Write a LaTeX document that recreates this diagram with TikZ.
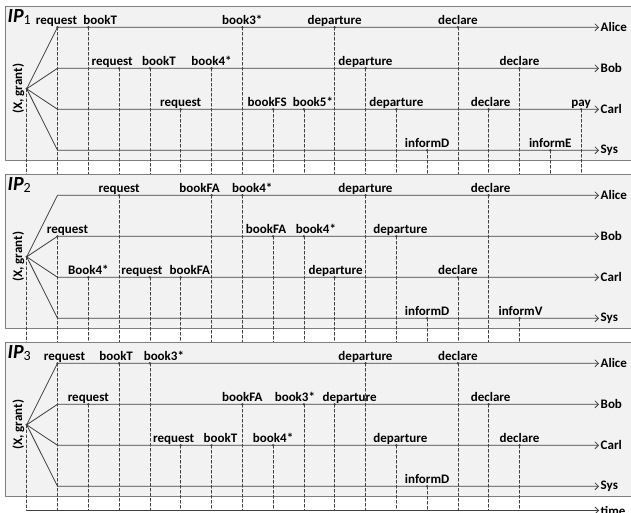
\documentclass[tikz,border=0pt]{standalone}
\usepackage{fontspec}
\setmainfont{Carlito}
\usetikzlibrary{arrows.meta,positioning}
\definecolor{panelfill}{HTML}{F2F2F2}
\definecolor{panelline}{HTML}{7F7F7F}
\definecolor{inkgray}{HTML}{404040}
\tikzset{
  panel/.style={fill=panelfill,draw=panelline,line width=1.2pt},
  lifeline/.style={draw=inkgray,line width=.8pt,-{Straight Barb[length=3.5pt,width=7pt]}},
  tick/.style={draw=inkgray,line width=.6pt,dash pattern=on 3pt off 2pt},
  evlabel/.style={font=\fontsize{13}{15}\selectfont\bfseries,inner sep=0pt,anchor=base},
  actor/.style={font=\fontsize{13}{15}\selectfont\bfseries,inner sep=0pt,anchor=west},
  ip/.style={font=\fontsize{20}{22}\selectfont\bfseries\itshape,inner sep=0pt,anchor=base west},
}

\begin{document}
\begin{tikzpicture}[x=1pt,y=-1pt,line cap=round,line join=round]
\useasboundingbox (0,0) rectangle (631,513);
% IP_1
\begin{scope}
\path[panel] (5.5,6.7) rectangle (640,160.8);
\coordinate (o1) at (26.7,88.8);
\coordinate (b1) at (0,174.5);
\foreach \row/\who in {0/Alice,1/Bob,2/Carl,3/Sys}{
  \coordinate (s1-\row) at (57.5,{27.3+41*\row});
  \coordinate (t1-\row) at (599,{27.3+41*\row});
  \draw[lifeline] (o1) -- (s1-\row) -- (t1-\row);
  \node[actor,right=1.5pt of t1-\row] (n1-\row) {\who};
}
\draw[tick] (o1) -- (o1 |- b1);
\fill[inkgray] (o1) circle (1.3);
\node[ip] (ip1) at (7.5,22.7) {IP\raisebox{-1.5pt}{\normalfont\fontsize{14}{14}\selectfont 1}};
\node[actor,rotate=90,anchor=center] (g1) at (18.5,88.8) {(X, grant)};
\foreach \row/\kk/\lab/\dx in {0/1/request/-1,0/2/bookT/12,0/7/book3*/0,0/10/departure/0,0/14/declare/0,
  1/3/request/-7,1/4/bookT/9,1/6/book4*/0,1/11/departure/0,1/16/declare/0,
  2/5/request/0,2/8/bookFS/-6,2/9/book5*/9,2/12/departure/0,2/15/declare/2,2/18/pay/0,
  3/13/informD/0,3/17/informE/0}{
  \coordinate (e1-\kk) at ({26.7+30.8*\kk},{27.3+41*\row});
  \draw[tick] (e1-\kk) -- (e1-\kk |- b1);
  \fill[inkgray] (e1-\kk) circle (1.3);
  \node[evlabel] (l1-\kk) at ([xshift=\dx*1pt,yshift=2.5pt]e1-\kk) {\lab};
}
\end{scope}
% IP_2
\begin{scope}[yshift=-168pt]
\path[panel] (5.5,6.7) rectangle (640,160.8);
\coordinate (o2) at (26.7,88.8);
\coordinate (b2) at (0,174.5);
\foreach \row/\who in {0/Alice,1/Bob,2/Carl,3/Sys}{
  \coordinate (s2-\row) at (57.5,{27.3+41*\row});
  \coordinate (t2-\row) at (599,{27.3+41*\row});
  \draw[lifeline] (o2) -- (s2-\row) -- (t2-\row);
  \node[actor,right=1.5pt of t2-\row] (n2-\row) {\who};
}
\draw[tick] (o2) -- (o2 |- b2);
\fill[inkgray] (o2) circle (1.3);
\node[ip] (ip2) at (7.5,22.7) {IP\raisebox{-1.5pt}{\normalfont\fontsize{14}{14}\selectfont 2}};
\node[actor,rotate=90,anchor=center] (g2) at (18.5,88.8) {(X, grant)};
\foreach \row/\kk/\lab/\dx in {0/3/request/0,0/6/bookFA/-12,0/7/book4*/10,0/11/departure/0,0/15/declare/2,
  1/1/request/10,1/8/bookFA/-7,1/9/book4*/12,1/12/departure/4,
  2/2/Book4*/0,2/4/request/-8,2/5/bookFA/9,2/10/departure/1,2/14/declare/0,
  3/13/informD/0,3/16/informV/1}{
  \coordinate (e2-\kk) at ({26.7+30.8*\kk},{27.3+41*\row});
  \draw[tick] (e2-\kk) -- (e2-\kk |- b2);
  \fill[inkgray] (e2-\kk) circle (1.3);
  \node[evlabel] (l2-\kk) at ([xshift=\dx*1pt,yshift=2.5pt]e2-\kk) {\lab};
}
\end{scope}
% IP_3
\begin{scope}[yshift=-336pt]
\path[panel] (5.5,6.7) rectangle (640,160.8);
\coordinate (o3) at (26.7,88.8);
\coordinate (b3) at (0,174.5);
\foreach \row/\who in {0/Alice,1/Bob,2/Carl,3/Sys}{
  \coordinate (s3-\row) at (57.5,{27.3+41*\row});
  \coordinate (t3-\row) at (599,{27.3+41*\row});
  \draw[lifeline] (o3) -- (s3-\row) -- (t3-\row);
  \node[actor,right=1.5pt of t3-\row] (n3-\row) {\who};
}
\draw[tick] (o3) -- (o3 |- b3);
\fill[inkgray] (o3) circle (1.3);
\node[ip] (ip3) at (7.5,22.7) {IP\raisebox{-1.5pt}{\normalfont\fontsize{14}{14}\selectfont 3}};
\node[actor,rotate=90,anchor=center] (g3) at (18.5,88.8) {(X, grant)};
\foreach \row/\kk/\lab/\dx in {0/1/request/7,0/3/bookT/-3,0/4/book3*/14,0/11/departure/0,0/14/declare/0,
  1/2/request/0,1/7/bookFA/0,1/9/book3*/-9,1/10/departure/15,1/15/declare/2,
  2/5/request/-7,2/6/bookT/9,2/8/book4*/0,2/12/departure/4,2/16/declare/0,
  3/13/informD/0}{
  \coordinate (e3-\kk) at ({26.7+30.8*\kk},{27.3+41*\row});
  \draw[tick] (e3-\kk) -- (e3-\kk |- b3);
  \fill[inkgray] (e3-\kk) circle (1.3);
  \node[evlabel] (l3-\kk) at ([xshift=\dx*1pt,yshift=2.5pt]e3-\kk) {\lab};
}
\end{scope}
% time axis
\coordinate (ts) at (26.7,510.5);
\coordinate (te) at (599,510.5);
\draw[lifeline] (ts) -- (te);
\node[actor,right=1.5pt of te] (tl) {time};
\end{tikzpicture}
\end{document}
